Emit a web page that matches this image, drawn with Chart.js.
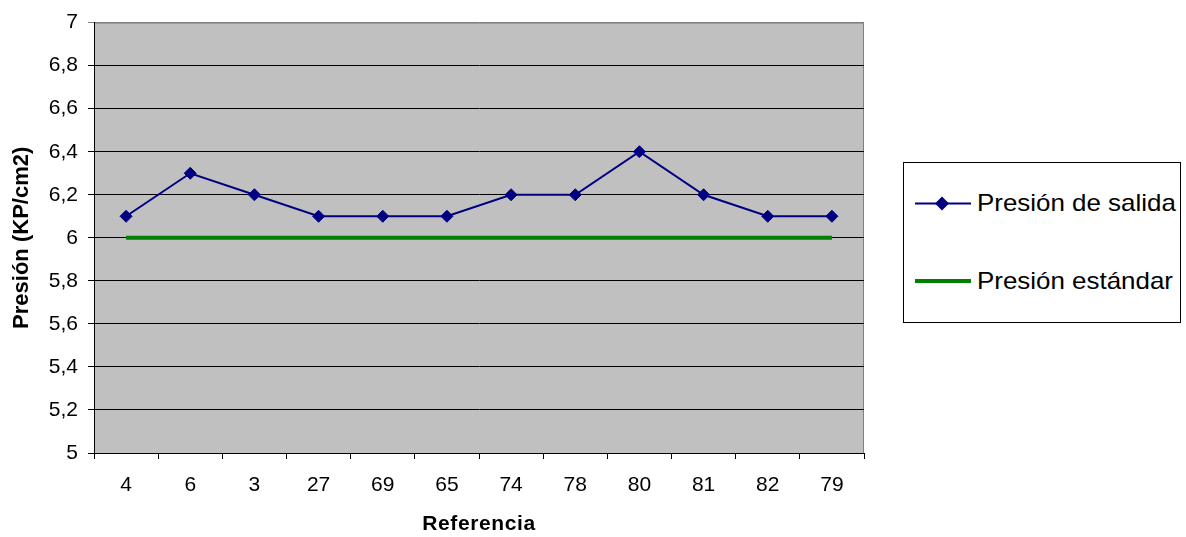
<!DOCTYPE html>
<html>
<head>
<meta charset="utf-8">
<script src="https://cdn.jsdelivr.net/npm/chart.js@4.4.1/dist/chart.umd.min.js"></script>
<style>
  html, body { margin: 0; padding: 0; background: #fff; }
  #wrap { position: relative; width: 1186px; height: 537px; }
  #legend { position: absolute; left: 903px; top: 162px; width: 276px; height: 159px;
            border: 1px solid #000; background: #fff; font-family: 'Liberation Sans', Arial, sans-serif; }
  .item { position: absolute; left: 11px; height: 30px; display: flex; align-items: center; }
  .item span { font-size: 24px; color: #000; margin-left: 6px; white-space: nowrap;
               display: inline-block; transform: scaleX(1.08); transform-origin: left center; }
</style>
</head>
<body>
<div id="wrap">
  <canvas id="c"></canvas>
  <div id="legend"></div>
</div>
<script>
const categories = ['4', '6', '3', '27', '69', '65', '74', '78', '80', '81', '82', '79'];
const presionSalida = [6.1, 6.3, 6.2, 6.1, 6.1, 6.1, 6.2, 6.2, 6.4, 6.2, 6.1, 6.1];
const presionEstandar = [6, 6, 6, 6, 6, 6, 6, 6, 6, 6, 6, 6];
const seriesNames = ['Presión de salida', 'Presión estándar'];
const yTickLabels = ['5', '5,2', '5,4', '5,6', '5,8', '6', '6,2', '6,4', '6,6', '6,8', '7'];
const xTitle = 'Referencia';
const yTitle = 'Presión (KP/cm2)';

const FONT = "'Liberation Sans', Arial, sans-serif";

function spacedTitle(scale, spacing) {
  if (scale._spaced) return;
  scale._spaced = true;
  const orig = scale.drawTitle.bind(scale);
  scale.drawTitle = function () {
    const c = this.ctx;
    c.save();
    c.letterSpacing = spacing;
    orig();
    c.restore();
  };
}

const plotBg = {
  id: 'plotBg',
  beforeDraw(chart) {
    const { ctx, chartArea: a } = chart;
    ctx.save();
    ctx.fillStyle = '#C0C0C0';
    ctx.fillRect(a.left, a.top, a.right - a.left, a.bottom - a.top);
    ctx.strokeStyle = '#808080';
    ctx.lineWidth = 1;
    ctx.beginPath();
    ctx.moveTo(a.left, a.top + 0.5);
    ctx.lineTo(a.right - 0.5, a.top + 0.5);
    ctx.lineTo(a.right - 0.5, a.bottom);
    ctx.stroke();
    ctx.restore();
  }
};

new Chart(document.getElementById('c'), {
  type: 'line',
  data: {
    labels: categories,
    datasets: [
      {
        label: seriesNames[0],
        data: presionSalida,
        borderColor: '#000080',
        backgroundColor: '#000080',
        borderWidth: 2,
        pointStyle: 'rectRot',
        pointRadius: 6,
        pointBorderWidth: 1,
        pointBackgroundColor: '#000080',
        pointBorderColor: '#000080',
        tension: 0,
        fill: false
      },
      {
        label: seriesNames[1],
        data: presionEstandar,
        borderColor: '#008000',
        backgroundColor: '#008000',
        borderWidth: 4,
        pointRadius: 0,
        tension: 0,
        fill: false
      }
    ]
  },
  options: {
    responsive: true,
    maintainAspectRatio: false,
    animation: false,
    events: [],
    layout: { padding: { top: 19, right: 322, left: 0, bottom: 0 } },
    plugins: { legend: { display: false }, tooltip: { enabled: false } },
    scales: {
      x: {
        type: 'category',
        offset: true,
        grid: { offset: true, drawOnChartArea: false, drawTicks: true, tickLength: 6, color: '#000', lineWidth: 1 },
        border: { display: true, color: '#000', width: 1 },
        ticks: { color: '#000', font: { family: FONT, size: 21 }, padding: 14, maxRotation: 0, autoSkip: false },
        title: { display: true, text: xTitle, color: '#000', font: { family: FONT, size: 21, weight: 'bold' }, padding: { top: 0, bottom: 0 } },
        afterFit(scale) { scale.height = 84; spacedTitle(scale, '0.6px'); }
      },
      y: {
        min: 5,
        max: 7,
        ticks: {
          stepSize: 0.2,
          color: '#000',
          font: { family: FONT, size: 21 },
          padding: 10,
          callback: (v, i) => yTickLabels[i]
        },
        grid: {
          drawTicks: true,
          tickLength: 6,
          lineWidth: 1,
          color: (ctx) => (ctx.tick && Math.abs(ctx.tick.value - 7) < 1e-6 ? '#808080' : '#000')
        },
        border: { display: true, color: '#000', width: 1 },
        title: { display: true, text: yTitle, color: '#000', font: { family: FONT, size: 22, weight: 'bold' }, padding: { top: 9, bottom: 0 } },
        afterFit(scale) { scale.width = 94; spacedTitle(scale, '0px'); }
      }
    }
  },
  plugins: [plotBg]
});

// HTML legend built from the series names
const legend = document.getElementById('legend');
const tops = [187, 265];
seriesNames.forEach((name, i) => {
  const div = document.createElement('div');
  div.className = 'item';
  div.style.top = (tops[i] - 162) + 'px';
  let svg;
  if (i === 0) {
    svg = '<svg width="56" height="30"><line x1="0" y1="15.5" x2="56" y2="15.5" stroke="#000080" stroke-width="2"/>' +
          '<polygon points="27,8.5 34,15.5 27,22.5 20,15.5" fill="#000080"/></svg>';
  } else {
    svg = '<svg width="56" height="30"><line x1="0" y1="15" x2="56" y2="15" stroke="#008000" stroke-width="4"/></svg>';
  }
  div.innerHTML = svg + '<span>' + name + '</span>';
  legend.appendChild(div);
});
</script>
</body>
</html>
